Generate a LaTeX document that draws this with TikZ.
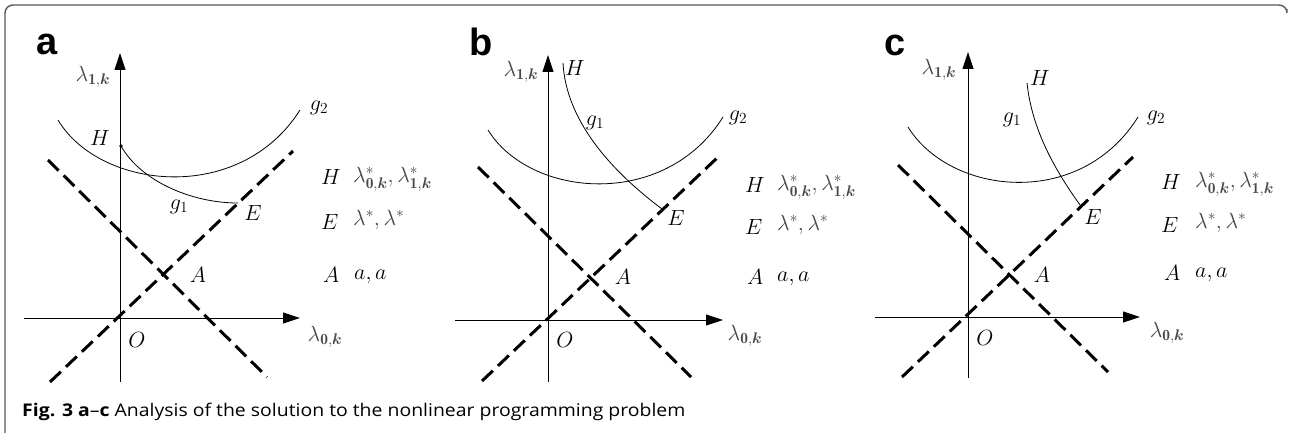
\documentclass[tikz,border=0pt]{standalone}
\usepackage{fix-cm}
\usepackage{amsmath}
\usepackage{graphicx}
\usepackage{fontspec}
\newfontfamily\labfont{Liberation Sans}
\newfontfamily\capfont{Open Sans}
\usetikzlibrary{arrows.meta}
\tikzset{
  axis/.style={line width=0.9pt, -{Triangle[length=17pt,width=11pt]}},
  dashline/.style={line width=3pt, dash pattern=on 15pt off 7pt},
  curve/.style={line width=0.8pt},
  lbl/.style={font=\fontsize{22}{26}\selectfont, inner sep=0pt},
  glbl/.style={lbl, text=black!72},
  panel/.style={font=\fontsize{38}{40}\selectfont\labfont\bfseries, inner sep=0pt},
  frame/.style={draw=black!65, line width=1.4pt, rounded corners=8pt},
}
\newcommand{\lamk}[1]{\lambda_{\mathbf{#1},\boldsymbol{k}}}
\begin{document}
\begin{tikzpicture}[x=1pt,y=-1pt]
\useasboundingbox (0,0) rectangle (1289,433);
\fill[white] (0,0) rectangle (1289,433);
\draw[frame] (5,433) -- (5,5) -- (1287,5) -- (1287,9);

% ---------- panel a ----------
\node[panel] (pa) at (47,44) {a};
\coordinate (ay0) at (120,382); \coordinate (ay1) at (120,53);
\coordinate (ax0) at (24,318);  \coordinate (ax1) at (300,318);
\draw[axis] (ay0) -- (ay1);
\draw[axis] (ax0) -- (ax1);
\node[glbl] (aly) at (93,77) {$\lamk{1}$};
\node[glbl] (alx) at (325,337) {$\lamk{0}$};
\node[lbl] (aO) at (137,340) {$O$};
\coordinate (ad1s) at (50,382); \coordinate (ad1e) at (293,151);
\coordinate (ad2s) at (48,160); \coordinate (ad2e) at (267,377);
\draw[dashline] (ad1s) -- (ad1e);
\draw[dashline] (ad2s) -- (ad2e);
\node[lbl] (aA) at (198,275) {$A$};
\coordinate (ag2s) at (58,120); \coordinate (ag2e) at (300,110);
\draw[curve] (ag2s) .. controls (100,190) and (240,205) .. (ag2e);
\node[lbl] (ag2) at (319,108) {$g_2$};
\coordinate (aH) at (121,146); \coordinate (aE) at (238,203);
\fill (aH) circle (1.8pt);
\draw[curve] (aH) .. controls (140,180) and (190,203) .. (aE);
\node[lbl] (aHl) at (100,138) {$H$};
\node[lbl] (ag1) at (179,207) {$g_1$};
\node[lbl] (aEl) at (253,213) {$E$};
\node[lbl,anchor=west] (aLH) at (321,177) {$H$};
\node[glbl,anchor=west] (aLHv) at (353,179) {$\lambda^*_{\mathbf{0},\boldsymbol{k}},\lambda^*_{\mathbf{1},\boldsymbol{k}}$};
\node[lbl,anchor=west] (aLE) at (321,222) {$E$};
\node[glbl,anchor=west] (aLEv) at (353,220) {$\lambda^*,\lambda^*$};
\node[lbl,anchor=west] (aLA) at (323,275) {$A$};
\node[lbl,anchor=west] (aLAv) at (354,277) {$a,a$};

% ---------- panel b ----------
\node[panel] (pb) at (481,42) {b};
\coordinate (by0) at (548,382); \coordinate (by1) at (548,55);
\coordinate (bx0) at (455,320); \coordinate (bx1) at (723,320);
\draw[axis] (by0) -- (by1);
\draw[axis] (bx0) -- (bx1);
\node[glbl] (bly) at (521,72) {$\lamk{1}$};
\node[glbl] (blx) at (745,336) {$\lamk{0}$};
\node[lbl] (bO) at (565,340) {$O$};
\coordinate (bd1s) at (482,381); \coordinate (bd1e) at (717,158);
\coordinate (bd2s) at (478,167); \coordinate (bd2e) at (691,377);
\draw[dashline] (bd1s) -- (bd1e);
\draw[dashline] (bd2s) -- (bd2e);
\node[lbl] (bA) at (623,277) {$A$};
\coordinate (bg2s) at (488,130); \coordinate (bg2e) at (723,117);
\draw[curve] (bg2s) .. controls (530,198) and (665,210) .. (bg2e);
\node[lbl] (bg2) at (738,118) {$g_2$};
\coordinate (bH) at (563,63); \coordinate (bE) at (662,209);
\draw[curve] (bH) .. controls (566,120) and (610,170) .. (bE);
\node[lbl] (bHl) at (575,68) {$H$};
\node[lbl] (bg1) at (595,123) {$g_1$};
\node[lbl] (bEl) at (676,218) {$E$};
\node[lbl,anchor=west] (bLH) at (745,185) {$H$};
\node[glbl,anchor=west] (bLHv) at (777,187) {$\lambda^*_{\mathbf{0},\boldsymbol{k}},\lambda^*_{\mathbf{1},\boldsymbol{k}}$};
\node[lbl,anchor=west] (bLE) at (745,227) {$E$};
\node[glbl,anchor=west] (bLEv) at (777,225) {$\lambda^*,\lambda^*$};
\node[lbl,anchor=west] (bLA) at (747,277) {$A$};
\node[lbl,anchor=west] (bLAv) at (777,279) {$a,a$};

% ---------- panel c ----------
\node[panel] (pc) at (895,45) {c};
\coordinate (cy0) at (968,378); \coordinate (cy1) at (968,52);
\coordinate (cx0) at (875,317); \coordinate (cx1) at (1140,317);
\draw[axis] (cy0) -- (cy1);
\draw[axis] (cx0) -- (cx1);
\node[glbl] (cly) at (939,70) {$\lamk{1}$};
\node[glbl] (clx) at (1167,333) {$\lamk{0}$};
\node[lbl] (cO) at (985,338) {$O$};
\coordinate (cd1s) at (902,377); \coordinate (cd1e) at (1133,157);
\coordinate (cd2s) at (898,165); \coordinate (cd2e) at (1108,372);
\draw[dashline] (cd1s) -- (cd1e);
\draw[dashline] (cd2s) -- (cd2e);
\node[lbl] (cA) at (1042,275) {$A$};
\coordinate (cg2s) at (908,127); \coordinate (cg2e) at (1138,117);
\draw[curve] (cg2s) .. controls (950,195) and (1080,210) .. (cg2e);
\node[lbl] (cg2) at (1156,118) {$g_2$};
\coordinate (cH) at (1027,83); \coordinate (cE) at (1080,205);
\draw[curve] (cH) .. controls (1032,130) and (1055,170) .. (cE);
\node[lbl] (cHl) at (1040,78) {$H$};
\node[lbl] (cg1) at (1012,120) {$g_1$};
\node[lbl] (cEl) at (1093,217) {$E$};
\node[lbl,anchor=west] (cLH) at (1161,182) {$H$};
\node[glbl,anchor=west] (cLHv) at (1195,184) {$\lambda^*_{\mathbf{0},\boldsymbol{k}},\lambda^*_{\mathbf{1},\boldsymbol{k}}$};
\node[lbl,anchor=west] (cLE) at (1161,225) {$E$};
\node[glbl,anchor=west] (cLEv) at (1195,223) {$\lambda^*,\lambda^*$};
\node[lbl,anchor=west] (cLA) at (1164,273) {$A$};
\node[lbl,anchor=west] (cLAv) at (1195,275) {$a,a$};

% ---------- caption ----------
\node[anchor=base west, inner sep=0pt, font=\capfont\fontsize{17.5}{20}\selectfont] (cap) at (22,416)
  {\scalebox{1.11}[1]{\textbf{Fig. 3 a}–\textbf{c} Analysis of the solution to the nonlinear programming problem}};
\end{tikzpicture}
\end{document}
